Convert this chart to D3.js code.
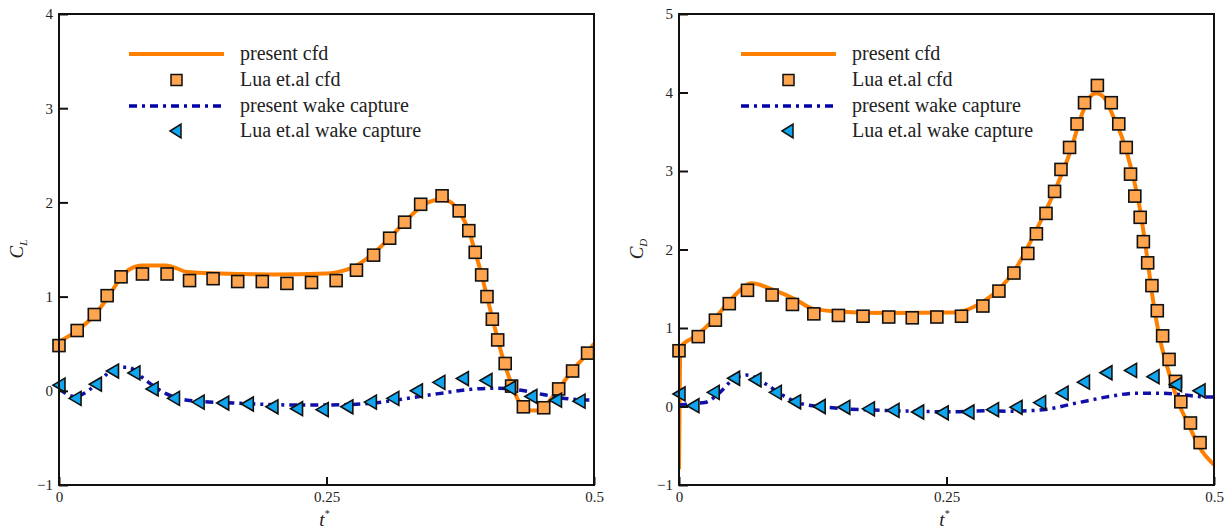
<!DOCTYPE html>
<html>
<head>
<meta charset="utf-8">
<script src="https://cdn.jsdelivr.net/npm/d3@7"></script>
<style>
  body { margin: 0; background: #fff; }
  svg text { font-family: "Liberation Serif", "Tinos", "DejaVu Serif", "Noto Serif", serif; fill: #222; }
</style>
</head>
<body>
<div id="viz"></div>
<script>
// ---- data ----
// left panel: lift coefficient
const clCfdT   = [0, 0.017, 0.033, 0.045, 0.058, 0.066, 0.078, 0.09, 0.10, 0.11, 0.12, 0.15, 0.20, 0.25, 0.26, 0.278, 0.294, 0.309, 0.323, 0.338, 0.35, 0.358, 0.365, 0.374, 0.383, 0.389, 0.395, 0.40, 0.405, 0.41, 0.416, 0.423, 0.43, 0.437, 0.445, 0.453, 0.467, 0.48, 0.494, 0.5];
const clCfdV   = [0.52, 0.64, 0.80, 0.98, 1.20, 1.29, 1.33, 1.33, 1.33, 1.30, 1.26, 1.245, 1.235, 1.245, 1.26, 1.33, 1.46, 1.62, 1.79, 1.95, 2.02, 2.03, 2.01, 1.90, 1.70, 1.47, 1.23, 1.00, 0.77, 0.55, 0.30, 0.07, -0.12, -0.20, -0.21, -0.17, 0.02, 0.22, 0.40, 0.50];
const clLuaT   = [0, 0.017, 0.033, 0.045, 0.058, 0.078, 0.101, 0.122, 0.144, 0.167, 0.190, 0.213, 0.236, 0.259, 0.278, 0.294, 0.309, 0.323, 0.338, 0.358, 0.374, 0.383, 0.389, 0.395, 0.400, 0.405, 0.410, 0.417, 0.423, 0.434, 0.453, 0.467, 0.480, 0.494];
const clLuaV   = [0.48, 0.64, 0.81, 1.01, 1.21, 1.24, 1.24, 1.17, 1.19, 1.16, 1.16, 1.14, 1.15, 1.17, 1.28, 1.44, 1.62, 1.79, 1.98, 2.07, 1.91, 1.70, 1.47, 1.23, 1.00, 0.76, 0.54, 0.29, 0.05, -0.17, -0.18, 0.02, 0.21, 0.40];
const clWakeT  = [0, 0.015, 0.026, 0.04, 0.055, 0.065, 0.08, 0.10, 0.12, 0.14, 0.17, 0.215, 0.25, 0.29, 0.32, 0.355, 0.385, 0.41, 0.43, 0.455, 0.48, 0.5];
const clWakeV  = [0.02, -0.06, -0.01, 0.13, 0.25, 0.25, 0.12, -0.03, -0.10, -0.118, -0.133, -0.15, -0.15, -0.135, -0.09, -0.03, 0.016, 0.027, 0.008, -0.045, -0.09, -0.10];
const clLuaWT  = [0, 0.015, 0.034, 0.050, 0.070, 0.087, 0.107, 0.130, 0.153, 0.176, 0.199, 0.222, 0.246, 0.269, 0.291, 0.312, 0.334, 0.355, 0.377, 0.399, 0.421, 0.441, 0.464, 0.486];
const clLuaWV  = [0.06, -0.08, 0.07, 0.21, 0.19, 0.02, -0.08, -0.12, -0.13, -0.14, -0.17, -0.19, -0.20, -0.17, -0.12, -0.08, 0.00, 0.09, 0.13, 0.11, 0.03, -0.06, -0.10, -0.11];

// right panel: drag coefficient
const cdCfdT   = [0, 0.0015, 0.016, 0.035, 0.051, 0.068, 0.088, 0.110, 0.124, 0.148, 0.194, 0.256, 0.269, 0.284, 0.300, 0.313, 0.334, 0.350, 0.365, 0.378, 0.384, 0.390, 0.397, 0.406, 0.415, 0.423, 0.431, 0.437, 0.443, 0.449, 0.458, 0.467, 0.477, 0.486, 0.5];
const cdCfdV   = [-0.8, 0.76, 0.90, 1.145, 1.40, 1.57, 1.485, 1.357, 1.25, 1.21, 1.19, 1.196, 1.23, 1.336, 1.506, 1.72, 2.25, 2.71, 3.22, 3.775, 3.94, 3.99, 3.94, 3.69, 3.39, 3.01, 2.50, 1.95, 1.357, 0.89, 0.425, 0.043, -0.254, -0.51, -0.742];
const cdLuaT   = [0, 0.018, 0.034, 0.047, 0.064, 0.087, 0.106, 0.126, 0.149, 0.172, 0.196, 0.218, 0.241, 0.264, 0.284, 0.299, 0.313, 0.326, 0.334, 0.343, 0.351, 0.357, 0.365, 0.372, 0.379, 0.391, 0.404, 0.411, 0.418, 0.422, 0.426, 0.431, 0.434, 0.438, 0.442, 0.447, 0.452, 0.458, 0.464, 0.469, 0.478, 0.487];
const cdLuaV   = [0.71, 0.89, 1.10, 1.31, 1.48, 1.42, 1.30, 1.18, 1.16, 1.15, 1.14, 1.13, 1.14, 1.15, 1.28, 1.47, 1.70, 1.95, 2.20, 2.46, 2.74, 3.02, 3.30, 3.60, 3.87, 4.09, 3.87, 3.60, 3.30, 2.96, 2.68, 2.41, 2.10, 1.83, 1.54, 1.22, 0.90, 0.60, 0.32, 0.06, -0.21, -0.46];
const cdWakeT  = [0, 0.015, 0.024, 0.039, 0.05, 0.063, 0.082, 0.096, 0.115, 0.146, 0.193, 0.255, 0.288, 0.309, 0.34, 0.371, 0.402, 0.427, 0.449, 0.471, 0.486, 0.5];
const cdWakeV  = [0.02, 0.04, 0.05, 0.19, 0.34, 0.40, 0.28, 0.15, 0.034, -0.02, -0.05, -0.067, -0.055, -0.06, -0.042, 0.043, 0.127, 0.17, 0.17, 0.149, 0.127, 0.12];
const cdLuaWT  = [0, 0.013, 0.032, 0.051, 0.071, 0.090, 0.108, 0.131, 0.154, 0.177, 0.200, 0.223, 0.246, 0.270, 0.293, 0.315, 0.337, 0.358, 0.378, 0.399, 0.422, 0.443, 0.464, 0.486];
const cdLuaWV  = [0.16, 0.01, 0.18, 0.36, 0.34, 0.18, 0.06, 0.00, -0.01, -0.03, -0.05, -0.07, -0.08, -0.07, -0.04, -0.01, 0.05, 0.17, 0.31, 0.43, 0.46, 0.38, 0.28, 0.20];

const xTicks = [0, 0.25, 0.5];
const xTickLabels = ["0", "0.25", "0.5"];
const legendLabels = ["present cfd", "Lua et.al cfd", "present wake capture", "Lua et.al wake capture"];

const zip = (t, v) => t.map((d, i) => ({t: d, v: v[i]}));

const W = 1231, H = 529;
const serif = "'Liberation Serif', 'Tinos', 'DejaVu Serif', 'Noto Serif', serif";
const svg = d3.select("#viz").append("svg")
  .attr("width", W)
  .attr("height", H)
  .attr("font-family", serif);

const orange = "#ff8000", sqFill = "#ffa54f", blue = "#1010a8", triFill = "#0fa6ef";

function drawPanel(opt) {
  const x = d3.scaleLinear().domain([0, 0.5]).range([opt.x0, opt.x1]);
  const y = d3.scaleLinear().domain(opt.yDomain).range([485, 14]);
  const g = svg.append("g");

  const clipId = "clip" + opt.id;
  svg.append("clipPath").attr("id", clipId)
    .append("rect")
      .attr("x", opt.x0).attr("y", 14)
      .attr("width", opt.x1 - opt.x0).attr("height", 471);

  const line = d3.line()
    .x(d => x(d.t))
    .y(d => y(d.v))
    .curve(d3.curveMonotoneX);

  const plot = g.append("g").attr("clip-path", "url(#" + clipId + ")");

  // present cfd
  plot.append("path")
    .datum(zip(opt.cfdT, opt.cfdV))
    .attr("fill", "none")
    .attr("stroke", orange)
    .attr("stroke-width", 4)
    .attr("d", line);

  // present wake capture
  plot.append("path")
    .datum(zip(opt.wakeT, opt.wakeV))
    .attr("fill", "none")
    .attr("stroke", blue)
    .attr("stroke-width", 3.5)
    .attr("stroke-dasharray", "8,5,3,5")
    .attr("d", line);

  // Lua cfd squares
  g.selectAll(".sq" + opt.id)
    .data(zip(opt.luaT, opt.luaV))
    .join("rect")
      .attr("x", d => x(d.t) - 6)
      .attr("y", d => y(d.v) - 6)
      .attr("width", 12).attr("height", 12)
      .attr("fill", sqFill)
      .attr("stroke", "#111")
      .attr("stroke-width", 1.6);

  // Lua wake capture triangles
  g.selectAll(".tri" + opt.id)
    .data(zip(opt.luaWT, opt.luaWV))
    .join("path")
      .attr("d", "M-6,0L6,-7L6,7Z")
      .attr("transform", d => "translate(" + x(d.t) + "," + y(d.v) + ")")
      .attr("fill", triFill)
      .attr("stroke", "#111")
      .attr("stroke-width", 1.6);

  // frame
  g.append("rect")
    .attr("x", opt.x0).attr("y", 14)
    .attr("width", opt.x1 - opt.x0).attr("height", 471)
    .attr("fill", "none")
    .attr("stroke", "#111")
    .attr("stroke-width", 2);

  // axes with inside ticks
  const yAxis = g.append("g")
    .attr("transform", "translate(" + opt.x0 + ",0)")
    .call(d3.axisLeft(y).ticks(opt.yDomain[1] - opt.yDomain[0]).tickFormat(d3.format("d"))
      .tickSizeInner(-9).tickSizeOuter(0).tickPadding(6));
  const xAxis = g.append("g")
    .attr("transform", "translate(0,485)")
    .call(d3.axisBottom(x).tickValues(xTicks).tickFormat((d, i) => xTickLabels[i])
      .tickSizeInner(-8).tickSizeOuter(0).tickPadding(6));
  [yAxis, xAxis].forEach(a => {
    a.attr("font-family", serif);
    a.select(".domain").remove();
    a.selectAll(".tick line").attr("stroke", "#111").attr("stroke-width", 2);
    a.selectAll("text")
      .attr("font-size", 15)
      .attr("fill", "#222");
  });

  // axis titles
  const yt = g.append("text")
    .attr("transform", "translate(" + (opt.x0 - 36) + ",249) rotate(-90)")
    .attr("text-anchor", "middle")
    .attr("font-size", 19)
    .attr("font-style", "italic");
  yt.append("tspan").text("C");
  yt.append("tspan").attr("font-size", 11).attr("dy", 4).text(opt.sub);

  const xt = g.append("text")
    .attr("x", (opt.x0 + opt.x1) / 2 - 2)
    .attr("y", 526)
    .attr("text-anchor", "middle")
    .attr("font-size", 19)
    .attr("font-style", "italic");
  xt.append("tspan").text("t");
  xt.append("tspan").attr("font-size", 10).attr("dy", -9).attr("font-style", "normal").text("*");

  // legend
  const lx = opt.x0 + opt.legDx;
  const rows = [54, 80, 106, 131];
  const leg = g.append("g");
  leg.append("line")
    .attr("x1", lx).attr("x2", lx + 95).attr("y1", rows[0]).attr("y2", rows[0])
    .attr("stroke", orange).attr("stroke-width", 4);
  leg.append("rect")
    .attr("x", lx + 42).attr("y", rows[1] - 5.5).attr("width", 11).attr("height", 11)
    .attr("fill", sqFill).attr("stroke", "#111").attr("stroke-width", 1.5);
  leg.append("line")
    .attr("x1", lx).attr("x2", lx + 93).attr("y1", rows[2]).attr("y2", rows[2])
    .attr("stroke", "#0000a8").attr("stroke-width", 3.5)
    .attr("stroke-dasharray", "8,5,3,5");
  leg.append("path")
    .attr("d", "M-6,0L5,-7L5,7Z")
    .attr("transform", "translate(" + (lx + 47) + "," + rows[3] + ")")
    .attr("fill", triFill).attr("stroke", "#111").attr("stroke-width", 1.5);
  legendLabels.forEach((s, i) => {
    leg.append("text")
      .attr("x", lx + 111)
      .attr("y", rows[i] + 6)
      .attr("font-size", 20)
      .text(s);
  });
}

drawPanel({
  id: "L", x0: 59, x1: 594, yDomain: [-1, 4], sub: "L", legDx: 70,
  cfdT: clCfdT, cfdV: clCfdV, luaT: clLuaT, luaV: clLuaV,
  wakeT: clWakeT, wakeV: clWakeV, luaWT: clLuaWT, luaWV: clLuaWV
});
drawPanel({
  id: "D", x0: 679, x1: 1214, yDomain: [-1, 5], sub: "D", legDx: 62,
  cfdT: cdCfdT, cfdV: cdCfdV, luaT: cdLuaT, luaV: cdLuaV,
  wakeT: cdWakeT, wakeV: cdWakeV, luaWT: cdLuaWT, luaWV: cdLuaWV
});
</script>
</body>
</html>
